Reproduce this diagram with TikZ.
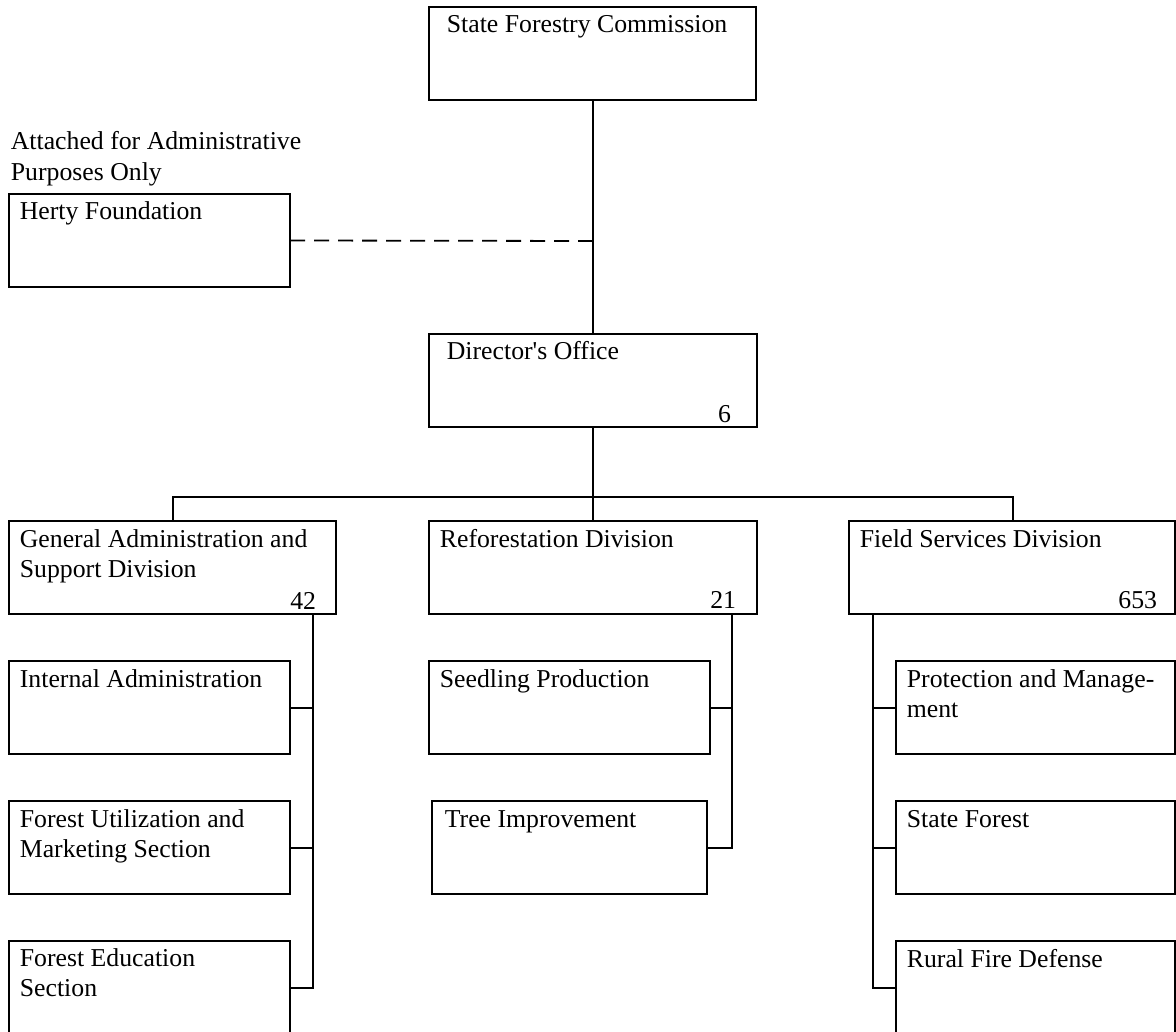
\documentclass[tikz,border=0pt]{standalone}
\usepackage{fontspec}
\setmainfont{Liberation Serif}[Ligatures=TeXOff]
\begin{document}
\begin{tikzpicture}[x=1pt,y=-1pt,
  line width=1.8pt,
  box/.style={draw=black, line width=1.8pt, rectangle, anchor=north west, inner sep=0pt, outer sep=0pt},
  lbl/.style={anchor=base west, inner sep=0pt, align=left, font=\fontsize{25.75}{30.5}\selectfont},
  num/.style={anchor=base east, inner sep=0pt, font=\fontsize{25.75}{30.5}\selectfont},
  conn/.style={draw=black, line width=1.8pt},
  dashconn/.style={draw=black, line width=1.8pt, dash pattern=on 15pt off 9pt}]
\useasboundingbox (0,0) rectangle (1176,1032);
\clip (0,0) rectangle (1176,1032);
% boxes
\node[box, minimum width=327pt, minimum height=93pt] (sfc) at (429,7) {};
\node[box, minimum width=281pt, minimum height=93pt] (herty) at (9,194) {};
\node[box, minimum width=328pt, minimum height=93pt] (dir) at (429,334) {};
\node[box, minimum width=327pt, minimum height=93pt] (ga) at (9,521) {};
\node[box, minimum width=328pt, minimum height=93pt] (ref) at (429,521) {};
\node[box, minimum width=326pt, minimum height=93pt] (fs) at (849,521) {};
\node[box, minimum width=281pt, minimum height=93pt] (ia) at (9,661) {};
\node[box, minimum width=281pt, minimum height=93pt] (fu) at (9,801) {};
\node[box, minimum width=281pt, minimum height=110pt] (fe) at (9,941) {};
\node[box, minimum width=281pt, minimum height=93pt] (sp) at (429,661) {};
\node[box, minimum width=275pt, minimum height=93pt] (ti) at (432,801) {};
\node[box, minimum width=279pt, minimum height=93pt] (pm) at (896,661) {};
\node[box, minimum width=279pt, minimum height=93pt] (sf) at (896,801) {};
\node[box, minimum width=279pt, minimum height=110pt] (rf) at (896,941) {};
% texts (multi-line nodes are placed by the baseline of their last line)
\node[lbl] (tsfc) at (446,33) {State Forestry Commission};
\node[lbl] (tatt) at (10,180.5) {Attached for Administrative\\Purposes Only};
\node[lbl] (therty) at (19,220) {Herty Foundation};
\node[lbl] (tdir) at (446,360) {Director's Office};
\node[num] (ndir) at (732,422) {6};
\node[lbl] (tga) at (19,577.5) {General Administration and\\Support Division};
\node[num] (nga) at (317,609) {42};
\node[lbl] (tref) at (439,547) {Reforestation Division};
\node[num] (nref) at (737,608) {21};
\node[lbl] (tfs) at (859,547) {Field Services Division};
\node[num] (nfs) at (1158,608) {653};
\node[lbl] (tia) at (19,687) {Internal Administration};
\node[lbl] (tfu) at (19,857.5) {Forest Utilization and\\Marketing Section};
\node[lbl] (tfe) at (19,996.5) {Forest Education\\Section};
\node[lbl] (tsp) at (439,687) {Seedling Production};
\node[lbl] (tti) at (444,827) {Tree Improvement};
\node[lbl] (tpm) at (906,717.5) {Protection and Manage-\\ment};
\node[lbl] (tsf) at (906,827) {State Forest};
\node[lbl] (trf) at (906,967) {Rural Fire Defense};
% connector coordinates
\coordinate (dash) at (593,241);
\coordinate (bus) at (593,497);
\coordinate (busL) at (173,497);
\coordinate (busR) at (1013,497);
\coordinate (gaB) at (313,614);
\coordinate (gaE) at (313,988);
\coordinate (refB) at (732,614);
\coordinate (refE) at (732,848);
\coordinate (fsB) at (873,614);
\coordinate (fsE) at (873,988);
% connectors
\draw[conn] (sfc.south -| dash) -- (dir.north -| dash);
\draw[dashconn] (herty.east) -- (dash);
\draw[conn] (dir.south -| bus) -- (bus);
\draw[conn] (ga.north -| busL) -- (busL) -- (busR) -- (fs.north -| busR);
\draw[conn] (bus) -- (ref.north -| bus);
\draw[conn] (gaB) -- (gaE) -- (fe.east |- gaE);
\draw[conn] (ia.east |- 0,708) -- (gaB |- 0,708);
\draw[conn] (fu.east |- 0,848) -- (gaB |- 0,848);
\draw[conn] (refB) -- (refE) -- (ti.east |- refE);
\draw[conn] (sp.east |- 0,708) -- (refB |- 0,708);
\draw[conn] (fsB) -- (fsE) -- (rf.west |- fsE);
\draw[conn] (pm.west |- 0,708) -- (fsB |- 0,708);
\draw[conn] (sf.west |- 0,848) -- (fsB |- 0,848);
\end{tikzpicture}
\end{document}
